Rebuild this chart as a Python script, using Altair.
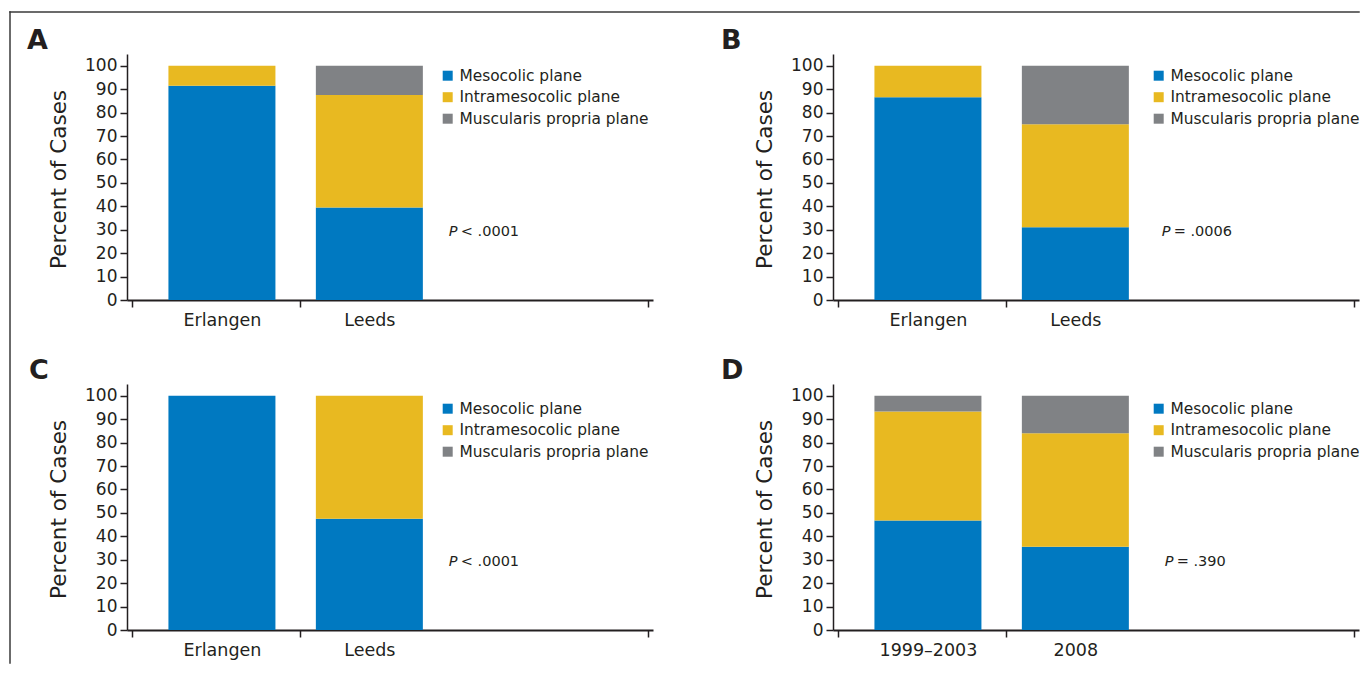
import altair as alt
import pandas as pd

PLANES = ["Mesocolic plane", "Intramesocolic plane", "Muscularis propria plane"]
COLORS = ["#0079c1", "#e8b921", "#808285"]

# Panel A
a_cats = ["Erlangen", "Leeds"]
a_meso = [91.5, 39.5]
a_intra = [8.5, 48.0]
a_musc = [0.0, 12.5]

# Panel B
b_cats = ["Erlangen", "Leeds"]
b_meso = [86.5, 31.0]
b_intra = [13.5, 44.0]
b_musc = [0.0, 25.0]

# Panel C
c_cats = ["Erlangen", "Leeds"]
c_meso = [100.0, 47.5]
c_intra = [0.0, 52.5]
c_musc = [0.0, 0.0]

# Panel D
d_cats = ["1999–2003", "2008"]
d_meso = [46.7, 35.5]
d_intra = [46.6, 48.5]
d_musc = [6.7, 16.0]

p_ops = ["<", "=", "<", "="]
p_vals = [".0001", ".0006", ".0001", ".390"]
letters = ["A", "B", "C", "D"]

FONT = "DejaVu Sans"
INK = "#231f20"
FRAME = "#3a3a3a"
W, H = 526, 246
X_MAX = 3.5
OFF = 0.61
MID = 1.14
Y_MAX = 105


def panel(letter, cats, meso, intra, musc, op, pval, px, lx, ly, letter_dx, rules):
    rows = []
    for i, c in enumerate(cats):
        vals = [meso[i], intra[i], musc[i]]
        for k, (pl, v) in enumerate(zip(PLANES, vals)):
            rows.append({"cat": c, "pos": i + OFF, "plane": pl, "value": v, "ord": k})
    df = pd.DataFrame(rows)
    centers = [i + OFF for i in range(len(cats))]
    label_expr = " : ".join(
        f"abs(datum.value - {p}) < 0.01 ? '{c}'" for p, c in zip(centers, cats)
    ) + " : ''"
    hide_test = " || ".join(f"abs(datum.value - {p}) < 0.01" for p in centers)

    xscale = alt.Scale(domain=[0, X_MAX], nice=False, zero=False)
    yscale = alt.Scale(domain=[0, Y_MAX], nice=False)

    xaxis = alt.Axis(
        values=[0, centers[0], MID, centers[1], X_MAX],
        labelExpr=label_expr,
        title=None,
        grid=False,
        tickSize=7,
        tickWidth=1.5,
        tickColor=INK,
        tickOpacity={"condition": {"test": hide_test, "value": 0}, "value": 1},
        labelPadding=4,
        labelFontSize=17.5,
        labelFont=FONT,
        labelColor=INK,
        labelOverlap=False,
        labelFlush=False,
        domainWidth=2,
        domainColor=INK,
    )
    yaxis = alt.Axis(
        values=list(range(0, 101, 10)),
        title="Percent of Cases",
        grid=False,
        tickSize=7,
        tickWidth=1.5,
        tickColor=INK,
        domainWidth=1.5,
        domainColor=INK,
        labelFontSize=17,
        labelFont=FONT,
        labelColor=INK,
        labelPadding=3,
        titleFontSize=21.5,
        titleFont=FONT,
        titleFontWeight="normal",
        titleColor=INK,
        titleAngle=270,
        titleAlign="center",
        titleBaseline="alphabetic",
        titleX=-62,
        titleY=125,
    )

    bars = alt.Chart(df).mark_bar(size=107).encode(
        x=alt.X("pos:Q", scale=xscale, axis=xaxis),
        y=alt.Y("value:Q", stack="zero", scale=yscale, axis=yaxis),
        color=alt.Color(
            "plane:N",
            scale=alt.Scale(domain=PLANES, range=COLORS),
            legend=alt.Legend(
                orient="none",
                legendX=lx,
                legendY=ly,
                title=None,
                symbolType="square",
                symbolSize=100,
                symbolStrokeWidth=0,
                labelFontSize=15.4,
                labelFont=FONT,
                labelColor=INK,
                labelOffset=4,
                rowPadding=4.5,
                labelLimit=400,
                padding=0,
            ),
        ),
        order=alt.Order("ord:Q", sort="ascending"),
    )

    pdf = pd.DataFrame({"pos": [px], "value": [27.5], "rest": [f"{op} {pval}"]})
    p_it = alt.Chart(pdf).mark_text(
        text="P", fontStyle="italic", align="left", baseline="alphabetic",
        fontSize=14.5, font=FONT, color=INK
    ).encode(
        x=alt.X("pos:Q", scale=xscale, axis=xaxis),
        y=alt.Y("value:Q", scale=yscale, axis=yaxis),
    )
    p_rest = alt.Chart(pdf).mark_text(
        align="left", baseline="alphabetic", dx=12,
        fontSize=14.5, font=FONT, color=INK
    ).encode(
        x=alt.X("pos:Q", scale=xscale, axis=xaxis),
        y=alt.Y("value:Q", scale=yscale, axis=yaxis),
        text="rest:N",
    )

    one = pd.DataFrame({"a": [0]})
    ldf = pd.DataFrame({"t": [letter]})
    let = alt.Chart(ldf).mark_text(
        align="left", baseline="alphabetic", fontSize=27, fontWeight="bold",
        font=FONT, color=INK
    ).encode(text="t:N", x=alt.value(letter_dx), y=alt.value(-5))

    layers = [bars, p_it, p_rest, let]
    for r in rules:
        enc = {k: alt.value(v) for k, v in r.items()}
        layers.append(
            alt.Chart(one).mark_rule(color=FRAME, strokeWidth=1.5, strokeCap="square").encode(**enc)
        )
    return alt.layer(*layers).properties(width=W, height=H)


# outer frame (left and top rules) drawn relative to panel A
frame_rules = [{"x": -117, "y": -42, "y2": 609},
               {"x": -117, "x2": 1232, "y": -42}]

pa = panel(letters[0], a_cats, a_meso, a_intra, a_musc, p_ops[0], p_vals[0],
           2.149, 313, 14, -100, rules=frame_rules)
pb = panel(letters[1], b_cats, b_meso, b_intra, b_musc, p_ops[1], p_vals[1],
           2.196, 318, 14, -112, rules=[])
pc = panel(letters[2], c_cats, c_meso, c_intra, c_musc, p_ops[2], p_vals[2],
           2.149, 313, 17, -98, rules=[])
pd_ = panel(letters[3], d_cats, d_meso, d_intra, d_musc, p_ops[3], p_vals[3],
            2.216, 318, 17, -112, rules=[])

chart = (
    alt.concat(pa, pb, pc, pd_, columns=2, spacing={"row": 84, "column": 180},
               bounds="flush")
    .resolve_legend(color="independent")
    .properties(padding={"left": 0, "top": 2, "right": 0, "bottom": 0})
    .configure(font=FONT)
    .configure_view(stroke="transparent")
)

chart.save("out.html", embed_options={"renderer": "svg", "actions": False})
